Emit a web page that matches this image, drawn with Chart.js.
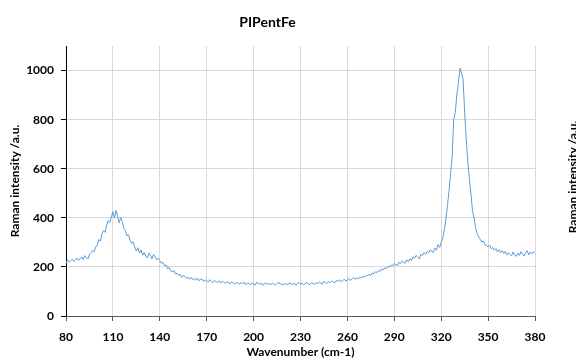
<!DOCTYPE html>
<html>
<head>
<meta charset="utf-8">
<script src="https://cdn.jsdelivr.net/npm/chart.js@4/dist/chart.umd.min.js"></script>
<style>
  html, body { margin: 0; padding: 0; background: #fff; }
  #wrap { width: 576px; height: 362px; }
</style>
</head>
<body>
<div id="wrap"><canvas id="myChart" width="576" height="362"></canvas></div>
<script>
// Raman spectrum, PIPentFe
const wavenumbers = [];
for (let w = 80; w <= 380; w++) wavenumbers.push(w);

const intensity = [
  214, 229, 219, 225, 231, 222, 228, 236, 226, 233,
  241, 230, 246, 237, 232, 251, 258, 266, 262, 281,
  290, 312, 305, 336, 348, 341, 372, 389, 381, 402,
  425, 398, 430, 408, 379, 401, 385, 358, 347, 326,
  331, 308, 296, 302, 281, 265, 278, 257, 269, 248,
  259, 244, 236, 255, 247, 233, 251, 240, 229, 236,
  226, 214, 219, 204, 208, 193, 197, 184, 179, 186,
  171, 175, 165, 170, 158, 166, 161, 153, 159, 150,
  157, 149, 152, 146, 155, 144, 149, 151, 140, 147,
  143, 139, 148, 141, 136, 145, 140, 137, 144, 135,
  141, 138, 133, 140, 136, 131, 139, 134, 130, 137,
  133, 129, 136, 131, 138, 127, 134, 132, 128, 135,
  131, 126, 137, 133, 129, 134, 125, 131, 136, 128,
  132, 127, 135, 130, 126, 133, 138, 129, 131, 125,
  133, 129, 127, 136, 131, 128, 134, 126, 132, 137,
  129, 134, 128, 131, 138, 130, 127, 135, 132, 129,
  136, 131, 139, 134, 130, 141, 137, 133, 140, 136,
  143, 138, 135, 145, 141, 147, 139, 144, 150, 142,
  148, 153, 145, 151, 157, 149, 155, 152, 160, 154,
  162, 158, 166, 163, 171, 165, 176, 172, 180, 177,
  186, 181, 192, 188, 197, 193, 203, 199, 208, 204,
  214, 209, 206, 219, 213, 224, 218, 215, 229, 221,
  233, 226, 241, 236, 247, 239, 233, 252, 246, 258,
  251, 263, 257, 270, 262, 259, 276, 268, 291, 279,
  300, 318, 350, 395, 450, 510, 580, 650, 800, 830,
  900, 950, 1010, 990, 965, 830, 720, 630, 560, 500,
  430, 400, 360, 335, 322, 312, 301, 306, 290, 287,
  282, 289, 274, 279, 268, 275, 262, 270, 258, 266,
  255, 263, 249, 258, 252, 245, 261, 248, 243, 256,
  247, 262, 251, 244, 258, 266, 249, 260, 253, 262,
  255
];

const xTicks = [80, 110, 140, 170, 200, 230, 260, 290, 320, 350, 380];
const yTicks = [0, 200, 400, 600, 800, 1000];

const FONT = 'Lato, "Noto Sans", sans-serif';

// cut-off axis title of the neighbouring chart at the right edge
const edgeText = {
  id: 'edgeText',
  afterDraw(chart) {
    const ctx = chart.ctx;
    ctx.save();
    ctx.translate(573, 177);
    ctx.rotate(-Math.PI / 2);
    ctx.font = 'bold 12px ' + FONT;
    ctx.fillStyle = '#000';
    ctx.textAlign = 'center';
    ctx.textBaseline = 'middle';
    ctx.fillText('Raman intensity /a.u.', 0, 0);
    ctx.restore();
  }
};

const ctx = document.getElementById('myChart').getContext('2d');
const myChart = new Chart(ctx, {
  type: 'line',
  data: {
    datasets: [{
      data: wavenumbers.map((w, i) => ({ x: w, y: intensity[i] })),
      borderColor: '#5b9bd5',
      borderWidth: 1,
      pointRadius: 0,
      tension: 0,
      fill: false
    }]
  },
  options: {
    responsive: false,
    animation: false,
    layout: { padding: { left: 0, right: 41, top: 0, bottom: 0 } },
    plugins: {
      legend: { display: false },
      tooltip: { enabled: false },
      title: {
        display: true,
        text: 'PIPentFe',
        color: '#000',
        font: { family: FONT, size: 14, weight: 'bold', lineHeight: 1.2 },
        padding: { top: 14, bottom: 15.2 }
      }
    },
    scales: {
      x: {
        type: 'linear',
        min: 80,
        max: 380,
        afterBuildTicks: s => { s.ticks = xTicks.map(v => ({ value: v })); },
        afterFit: s => { s.height = 46; },
        ticks: {
          color: '#000',
          font: { family: FONT, size: 12, weight: 'bold' },
          padding: 9,
          maxRotation: 0,
          autoSkip: false,
          callback: v => String(v)
        },
        grid: { color: '#d9d9d9', tickColor: '#595959', tickLength: 5 },
        border: { color: '#595959' },
        title: {
          display: true,
          text: 'Wavenumber (cm-1)',
          color: '#000',
          font: { family: FONT, size: 12, weight: 'bold' },
          padding: { top: 1, bottom: 3 }
        }
      },
      y: {
        min: 0,
        max: 1100,
        afterBuildTicks: s => { s.ticks = yTicks.map(v => ({ value: v })); },
        afterFit: s => { s.width = 66; },
        ticks: {
          color: '#000',
          font: { family: FONT, size: 12, weight: 'bold' },
          padding: 7,
          callback: v => String(v)
        },
        grid: { color: '#d9d9d9', tickColor: '#000', tickLength: 5 },
        border: { color: '#000' },
        title: {
          display: true,
          text: 'Raman intensity /a.u.',
          color: '#000',
          font: { family: FONT, size: 12, weight: 'bold' },
          padding: { top: 8, bottom: 0 }
        }
      }
    }
  },
  plugins: [edgeText]
});
</script>
</body>
</html>
